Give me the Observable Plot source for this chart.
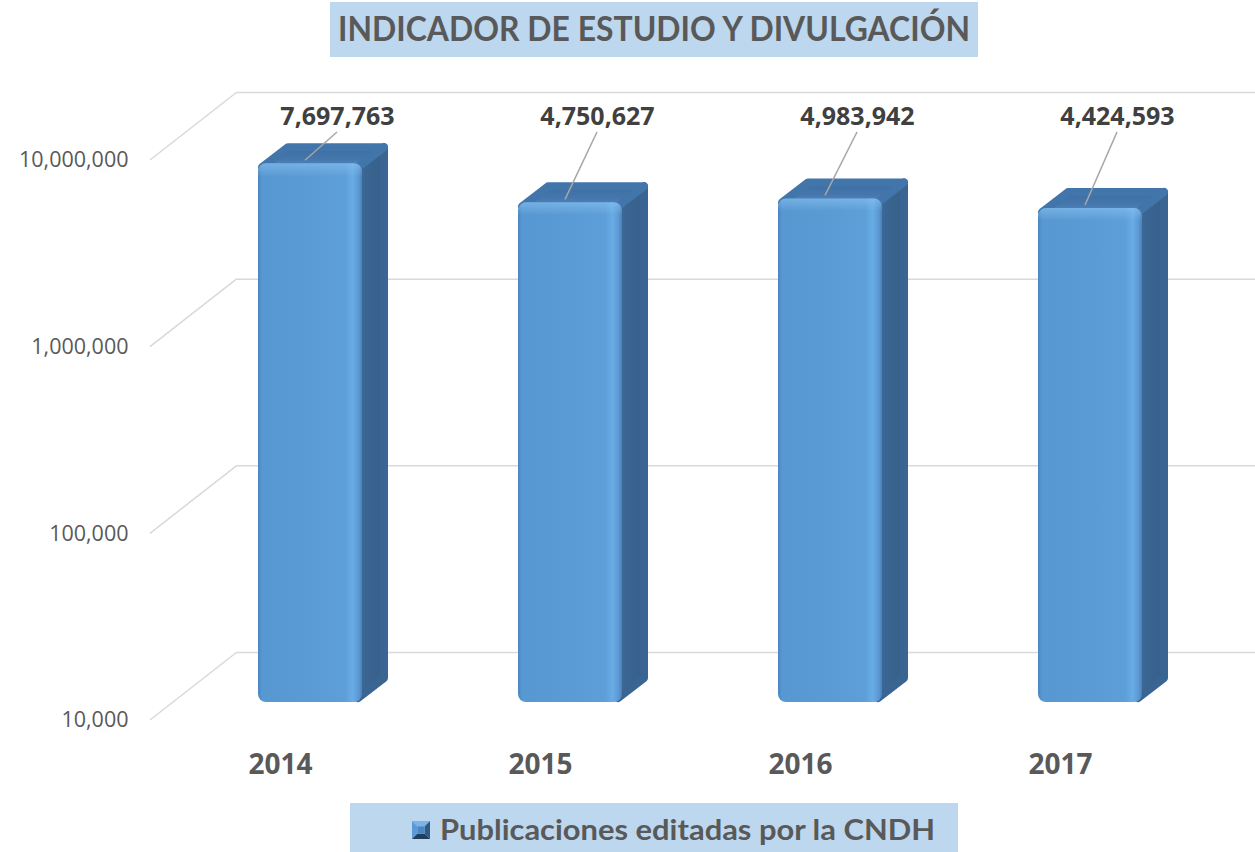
<!DOCTYPE html>
<html>
<head>
<meta charset="utf-8">
<script src="https://cdn.jsdelivr.net/npm/d3@7"></script>
<script src="https://cdn.jsdelivr.net/npm/@observablehq/plot@0.6"></script>
<style>
  html, body { margin: 0; padding: 0; background: #fff; }
  body { width: 1255px; height: 852px; overflow: hidden; position: relative; }
  .box { position: absolute; background: #bdd7ee; }
  .fit { position: absolute; white-space: nowrap; transform-origin: 0 50%; font-family: Lato, 'Open Sans', sans-serif; font-weight: bold; color: #595959; }
</style>
</head>
<body>
<div id="title" style="position:relative;height:60px;">
  <div class="box" style="left:330px;top:2px;width:648px;height:55px;"></div>
  <span id="ttext" class="fit" style="left:338px;top:0px;font-size:35px;line-height:55px;">INDICADOR DE ESTUDIO Y DIVULGACIÓN</span>
</div>
<div id="chart" style="height:743px;"></div>
<div id="legend" style="position:relative;height:49px;">
  <div class="box" style="left:350px;top:0px;width:608px;height:49px;"></div>
  <svg style="position:absolute;left:412px;top:18px;" width="18" height="18" viewBox="0 0 17 17">
    <polygon points="0,0 17,0 12,5 5,5" fill="#7ab3e6"/>
    <polygon points="0,0 5,5 5,12 0,17" fill="#5b9bd5"/>
    <polygon points="17,0 17,17 12,12 12,5" fill="#2f5a86"/>
    <polygon points="0,17 5,12 12,12 17,17" fill="#1f3f60"/>
    <rect x="5" y="5" width="7" height="7" fill="#4a86c2"/>
  </svg>
  <span id="ltext" class="fit" style="left:440px;top:2px;font-size:28px;line-height:49px;">Publicaciones editadas por la CNDH</span>
</div>
<script>
// ---- data ----
const years = ["2014", "2015", "2016", "2017"];
const publicaciones = [7697763, 4750627, 4983942, 4424593];
const yTicks = [10000, 100000, 1000000, 10000000];

const data = years.map((year, i) => ({year, value: publicaciones[i]}));
const floor = yTicks[0];

// ---- 3D geometry (style) ----
const FRONT = {dx: 23, dy: -18};
const DEPTH = {dx: 26, dy: -20};
const WALL = {dx: 87, dy: -68};
const LABEL_DX = 27;

function walls(index, {y}, values, {marginLeft}) {
  const g = d3.create("svg:g").attr("stroke", "#d9d9d9").attr("stroke-width", 1.5).attr("fill", "none");
  for (const t of yTicks) {
    g.append("line")
      .attr("x1", marginLeft).attr("y1", y(t))
      .attr("x2", marginLeft + WALL.dx).attr("y2", y(t) + WALL.dy);
  }
  return g.node();
}

function barSides(index, {x, y}) {
  const g = d3.create("svg:g");
  const defs = g.append("defs");
  const lin = (id, x2, y2, stops) => {
    const gr = defs.append("linearGradient").attr("id", id)
      .attr("x1", 0).attr("y1", 0).attr("x2", x2).attr("y2", y2);
    for (const [o, c, op] of stops) gr.append("stop").attr("offset", o).attr("stop-color", c).attr("stop-opacity", op ?? 1);
  };
  lin("gFront", 1, 0, [["0%", "#4a86c2"], ["4%", "#5898d2"], ["50%", "#5b9bd5"], ["84%", "#5e9fd9"], ["91%", "#69ace6"], ["97%", "#5b98d1"], ["100%", "#4a80b8"]]);
  lin("gFrontHi", 0, 1, [["0%", "#8cc4f2", 0.55], ["2.5%", "#8cc4f2", 0]]);
  lin("gTop", 0, 1, [["0%", "#3c6da2"], ["60%", "#4577ad"], ["100%", "#4f88c2"]]);
  lin("gSide", 1, 0, [["0%", "#3f6d9c"], ["30%", "#3a6592"], ["100%", "#375f8a"]]);
  const r = 4;
  for (const d of data) {
    const x0 = x(d.year) + FRONT.dx, x1 = x0 + x.bandwidth();
    const yt = y(d.value) + FRONT.dy, yb = y(floor) + FRONT.dy;
    const side = [[x1 - r, yt + r], [x1 + DEPTH.dx - r, yt + DEPTH.dy + r], [x1 + DEPTH.dx - r, yb + DEPTH.dy - r], [x1 - r, yb - r]];
    g.append("polygon").attr("points", side.join(" "))
      .attr("fill", "url(#gSide)").attr("stroke", "#3a6592").attr("stroke-width", 2 * r).attr("stroke-linejoin", "round");
    const top = [[x0 + r, yt + r], [x0 + DEPTH.dx + r, yt + DEPTH.dy + r], [x1 + DEPTH.dx - r, yt + DEPTH.dy + r], [x1 - r, yt + r]];
    g.append("polygon").attr("points", top.join(" "))
      .attr("fill", "url(#gTop)").attr("stroke", "#4275aa").attr("stroke-width", 2 * r).attr("stroke-linejoin", "round");
  }
  return g.node();
}

function leaders(index, {x, y}, values, {marginTop}) {
  const g = d3.create("svg:g").attr("stroke", "#a6a6a6").attr("stroke-width", 1.5);
  for (const d of data) {
    const cx = x(d.year) + x.bandwidth() / 2 + FRONT.dx;
    g.append("line")
      .attr("x1", cx - 5).attr("y1", y(d.value) + FRONT.dy - 3)
      .attr("x2", cx + LABEL_DX).attr("y2", marginTop + 16);
  }
  return g.node();
}

const chart = Plot.plot({
  width: 1255,
  height: 743,
  marginLeft: 150,
  marginRight: 0,
  marginTop: 56,
  marginBottom: 83,
  style: {fontFamily: "'Open Sans', sans-serif", color: "#595959", background: "transparent", overflow: "visible"},
  x: {domain: years, range: [157, 1197], paddingInner: 0.6, paddingOuter: 0.3},
  y: {type: "log", domain: [yTicks[0], yTicks[yTicks.length - 1]], range: [660, 100]},
  marks: [
    Plot.ruleY(yTicks, {dy: WALL.dy, insetLeft: WALL.dx, stroke: "#d9d9d9", strokeWidth: 1.5}),
    walls,
    Plot.axisY({ticks: yTicks, tickFormat: d3.format(","), tickSize: 0, tickPadding: 22, fontSize: 21.5, label: null}),
    Plot.axisX({tickSize: 0, tickPadding: 34, fontSize: 28, fontWeight: "bold", dx: -7, label: null}),
    barSides,
    Plot.barY(data, {x: "year", y1: floor, y2: "value", dx: FRONT.dx, dy: FRONT.dy, fill: "url(#gFront)", rx: 8}),
    Plot.barY(data, {x: "year", y1: floor, y2: "value", dx: FRONT.dx, dy: FRONT.dy, fill: "url(#gFrontHi)", rx: 8}),
    leaders,
    Plot.text(data, {x: "year", text: d => d3.format(",")(d.value), frameAnchor: "top", lineAnchor: "middle", dx: FRONT.dx + LABEL_DX, fontSize: 25, fontWeight: "bold", fill: "#404040"})
  ]
});
document.getElementById("chart").appendChild(chart);

function fit(id, target) {
  const el = document.getElementById(id);
  const w = el.getBoundingClientRect().width;
  el.style.transform = `scaleX(${target / w})`;
}
fit("ttext", 632);
fit("ltext", 495);
</script>
</body>
</html>
